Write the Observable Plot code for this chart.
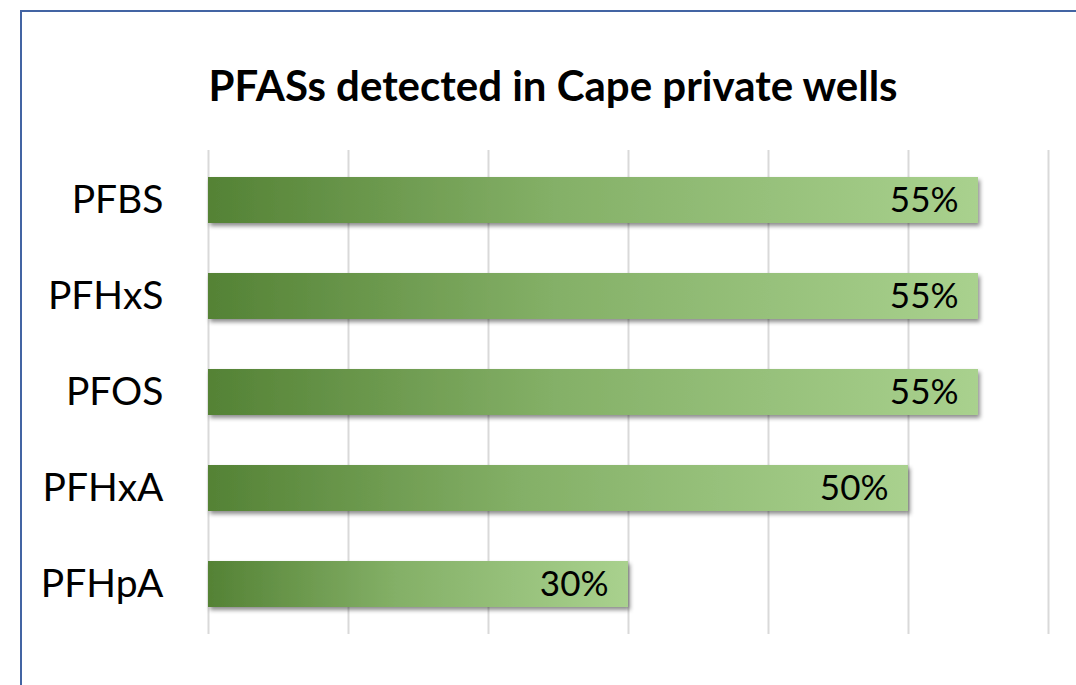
<!DOCTYPE html>
<html>
<head>
<meta charset="utf-8">
<script src="https://cdn.jsdelivr.net/npm/d3@7"></script>
<script src="https://cdn.jsdelivr.net/npm/@observablehq/plot@0.6"></script>
<style>
  html, body { margin: 0; padding: 0; background: #fff; overflow: hidden; }
  body { width: 1076px; height: 685px; position: relative; font-family: Lato, "Open Sans", sans-serif; }
  #frame { position: absolute; left: 20px; top: 10px; width: 1100px; height: 720px; border: 2px solid #4364a3; box-sizing: border-box; }
  #title { position: absolute; left: 0; width: 1106px; top: 64px; text-align: center; font-weight: 700; font-size: 42px; color: #000; line-height: 1; }
  #chart { position: absolute; left: 0; top: 140px; }
</style>
</head>
<body>
<div id="frame"></div>
<div id="title">PFASs detected in Cape private wells</div>
<div id="chart"></div>
<script>
const categories = ["PFBS", "PFHxS", "PFOS", "PFHxA", "PFHpA"];
const values = [55, 55, 55, 50, 30];
const valueLabels = ["55%", "55%", "55%", "50%", "30%"];
const gridTicks = [0, 10, 20, 30, 40, 50, 60];

const data = categories.map((c, i) => ({ name: c, value: values[i], label: valueLabels[i] }));

const plot = Plot.plot({
  width: 1076,
  height: 510,
  marginTop: 10,
  marginBottom: 16,
  marginLeft: 208,
  marginRight: 28,
  style: { fontFamily: "Lato, 'Open Sans', sans-serif", color: "#000", background: "transparent" },
  x: { domain: [0, 60], axis: null },
  y: { domain: categories, paddingInner: 0.525, paddingOuter: 0.2625, label: null },
  marks: [
    Plot.gridX(gridTicks, { stroke: "#d9d9d9", strokeOpacity: 1, strokeWidth: 2 }),
    Plot.axisY({ tickSize: 0, tickPadding: 45, fontSize: 39, label: null }),
    Plot.barX(data, { x: "value", y: "name", fill: "url(#barGrad)" }),
    Plot.text(data, { x: "value", y: "name", text: "label", textAnchor: "end", dx: -20, fontSize: 35, fill: "#000" })
  ]
});

const svg = d3.select(plot);
const defs = svg.insert("defs", ":first-child");
const grad = defs.append("linearGradient").attr("id", "barGrad").attr("x1", "0").attr("x2", "1").attr("y1", "0").attr("y2", "0");
grad.append("stop").attr("offset", "0%").attr("stop-color", "#548235");
grad.append("stop").attr("offset", "45%").attr("stop-color", "#84b067");
grad.append("stop").attr("offset", "100%").attr("stop-color", "#a9d18e");
const f = defs.append("filter").attr("id", "shadow").attr("x", "-10%").attr("y", "-30%").attr("width", "130%").attr("height", "180%");
f.append("feDropShadow").attr("dx", 2).attr("dy", 3).attr("stdDeviation", 2).attr("flood-color", "#000").attr("flood-opacity", 0.45);
svg.selectAll("g[aria-label='bar']").attr("filter", "url(#shadow)");

document.getElementById("chart").appendChild(plot);
</script>
</body>
</html>
